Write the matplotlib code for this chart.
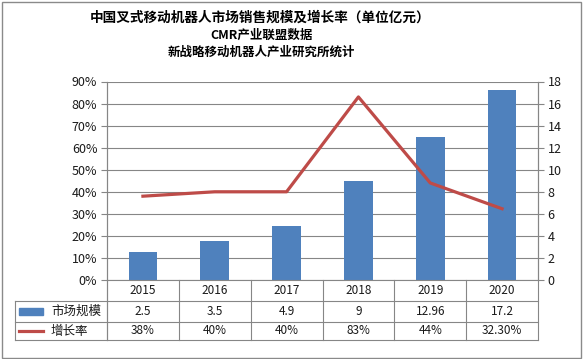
import matplotlib
matplotlib.use('Agg')
import matplotlib.pyplot as plt
from matplotlib.lines import Line2D
from matplotlib.patches import Rectangle

plt.rcParams['font.family'] = ['Noto Sans CJK SC', 'DejaVu Sans']

years = ['2015', '2016', '2017', '2018', '2019', '2020']
market = [2.5, 3.5, 4.9, 9, 12.96, 17.2]
market_labels = ['2.5', '3.5', '4.9', '9', '12.96', '17.2']
growth = [38, 40, 40, 83, 44, 32.3]
growth_labels = ['38%', '40%', '40%', '83%', '44%', '32.30%']

W, H = 584, 359
BAR = '#4F81BD'
RED = '#BE4B48'
GRID = '#868686'
TXT = '#1a1a1a'


def fx(x):
    return x / W


def fy(y):
    return 1 - y / H


def hline(fig, x0, x1, y):
    fig.add_artist(Line2D([fx(x0), fx(x1)], [fy(y), fy(y)], color=GRID, lw=0.8))


def vline(fig, x, y0, y1):
    fig.add_artist(Line2D([fx(x), fx(x)], [fy(y0), fy(y1)], color=GRID, lw=0.8))


fig = plt.figure(figsize=(W / 100, H / 100), dpi=100)
fig.add_artist(Rectangle((fx(1.5), fy(357.5)), fx(579), 1 - fy(356), fill=False,
                         edgecolor='#8a8a8a', lw=1.0))

L, R, T, B = 107, 538, 81.5, 280
ax = fig.add_axes([fx(L), fy(B), fx(R - L), (B - T) / H])
x = list(range(len(years)))
ax.bar(x, market, width=0.4, color=BAR, zorder=2)
ax.set_xlim(-0.5, len(years) - 0.5)
ax.set_ylim(0, 18)
ax.set_yticks(range(0, 19, 2))
ax.grid(axis='y', color=GRID, lw=0.8, zorder=0)
ax.set_axisbelow(True)
ax.set_xticks([])

ax2 = ax.twinx()
ax2.plot(x, growth, color=RED, lw=2.3, zorder=3)
ax2.set_ylim(0, 90)
ax2.set_yticks(range(0, 91, 10))
ax2.set_yticklabels([f'{v}%' for v in range(0, 91, 10)])
ax2.set_xticks([])

# swap sides: bars read on the right, growth on the left
ax.yaxis.tick_right()
ax2.yaxis.tick_left()

for a in (ax, ax2):
    for s in ('top', 'bottom'):
        a.spines[s].set_visible(False)
    for s in ('left', 'right'):
        a.spines[s].set_color(GRID)
        a.spines[s].set_linewidth(0.8)
    a.tick_params(axis='y', colors=GRID, labelcolor=TXT, labelsize=9,
                  length=4, width=0.8, pad=3)

# data table
rows = [280, 301, 322, 340]
hline(fig, L, R, rows[0])
for y in rows[1:]:
    hline(fig, 15, R, y)
vline(fig, 15, rows[1], rows[3])
vline(fig, L, rows[0], rows[3])
xt = ax.get_xaxis_transform()
for i in range(len(years) + 1):
    xb = i - 0.5
    ax.plot([xb, xb], [0, -(rows[3] - B) / (B - T)], transform=xt, color=GRID,
            lw=0.8, clip_on=False)


def ay(y):
    return -(y - B) / (B - T)


for i in range(len(years)):
    ax.text(i, ay((rows[0] + rows[1]) / 2), years[i], transform=xt, ha='center',
            va='center', fontsize=8.5, color=TXT)
    ax.text(i, ay((rows[1] + rows[2]) / 2), market_labels[i], transform=xt, ha='center',
            va='center', fontsize=8.5, color=TXT)
    ax.text(i, ay((rows[2] + rows[3]) / 2), growth_labels[i], transform=xt, ha='center',
            va='center', fontsize=8.5, color=TXT)

fig.add_artist(Rectangle((fx(19), fy(314.5)), fx(24), 7 / H, color=BAR))
fig.add_artist(Line2D([fx(19), fx(43)], [fy(331), fy(331)], color=RED, lw=2.3))
fig.text(fx(51), fy(311.5), '市场规模', ha='left', va='center', fontsize=9, color=TXT)
fig.text(fx(51), fy(331), '增长率', ha='left', va='center', fontsize=9, color=TXT)

fig.text(fx(260), fy(18), '中国叉式移动机器人市场销售规模及增长率（单位亿元）', ha='center',
         va='center', fontsize=9.8, fontweight='heavy', color='black')
fig.text(fx(262), fy(35), 'CMR产业联盟数据', ha='center', va='center', fontsize=9,
         fontweight='bold', color='black')
fig.text(fx(261), fy(52), '新战略移动机器人产业研究所统计', ha='center', va='center',
         fontsize=9, fontweight='bold', color='black')

fig.savefig('out.png', dpi=100)
